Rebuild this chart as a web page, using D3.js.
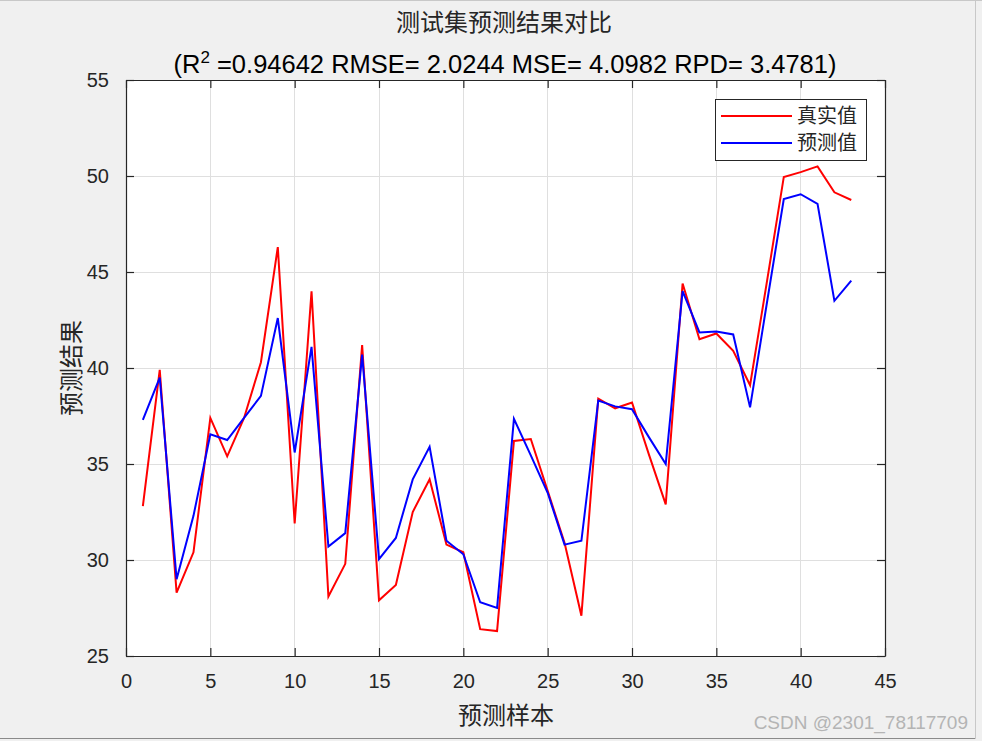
<!DOCTYPE html>
<html>
<head>
<meta charset="utf-8">
<script src="https://cdn.jsdelivr.net/npm/d3@7"></script>
<style>
  html, body { margin: 0; padding: 0; background: #f0f0f0; }
  svg { display: block; }
</style>
</head>
<body>
<div id="chart"></div>
<script>
// ---------- data ----------
const samples = d3.range(1, 44);
const trueValues = [32.8, 39.9, 28.3, 30.4, 37.4, 35.4, 37.4, 40.3, 46.3, 31.9,
  44.0, 28.1, 29.8, 41.2, 27.9, 28.7, 32.5, 34.2, 30.8, 30.4,
  26.4, 26.3, 36.2, 36.3, 33.6, 30.9, 27.1, 38.4, 37.9, 38.2,
  35.5, 32.9, 44.4, 41.5, 41.8, 40.9, 39.1, 44.5, 49.95, 50.2,
  50.5, 49.15, 48.75];
const predValues = [37.3, 39.5, 29.0, 32.3, 36.55, 36.25, 37.4, 38.55, 42.6, 35.6,
  41.1, 30.7, 31.4, 40.7, 30.05, 31.15, 34.2, 35.9, 31.0, 30.3,
  27.8, 27.5, 37.35, 35.45, 33.5, 30.8, 31.0, 38.3, 38.0, 37.85,
  36.4, 35.0, 44.0, 41.85, 41.9, 41.75, 37.95, 43.4, 48.8, 49.05,
  48.55, 43.5, 44.55];
const xTicks = [0, 5, 10, 15, 20, 25, 30, 35, 40, 45];
const yTicks = [25, 30, 35, 40, 45, 50, 55];
const seriesNames = ["真实值", "预测值"];
const seriesColors = ["#ff0000", "#0000ff"];
const titleLine1 = "测试集预测结果对比";
const metrics = { r2: "0.94642", rmse: "2.0244", mse: "4.0982", rpd: "3.4781" };
const xLabel = "预测样本";
const yLabel = "预测结果";
const watermark = "CSDN @2301_78117709";

// ---------- layout ----------
const W = 982, H = 741;
const L = 126, R = 885, T = 80, B = 656;
const cjk = "'Noto Sans CJK SC', sans-serif";
const latin = "'Liberation Sans', Arial, sans-serif";
const ink = "#262626";

const svg = d3.select("#chart").append("svg").attr("width", W).attr("height", H);
svg.append("rect").attr("width", W).attr("height", H).attr("fill", "#f0f0f0");

const x = d3.scaleLinear().domain([0, 45]).range([L, R]);
const y = d3.scaleLinear().domain([25, 55]).range([B, T]);

// plot background
svg.append("rect").attr("x", L).attr("y", T).attr("width", R - L).attr("height", B - T).attr("fill", "#fff");

// grid
const grid = svg.append("g");
grid.selectAll("line.gx").data(xTicks.slice(1, -1)).enter().append("line")
  .attr("x1", d => x(d)).attr("x2", d => x(d)).attr("y1", T).attr("y2", B)
  .attr("stroke", "#dfdfdf").attr("stroke-width", 1).attr("shape-rendering", "crispEdges");
grid.selectAll("line.gy").data(yTicks.slice(1, -1)).enter().append("line")
  .attr("y1", d => y(d)).attr("y2", d => y(d)).attr("x1", L).attr("x2", R)
  .attr("stroke", "#dfdfdf").attr("stroke-width", 1).attr("shape-rendering", "crispEdges");

// lines
const line = d3.line().x((d, i) => x(samples[i])).y(d => y(d));
[trueValues, predValues].forEach((vals, k) => {
  svg.append("path").datum(vals).attr("d", line)
    .attr("fill", "none").attr("stroke", seriesColors[k]).attr("stroke-width", 2)
    .attr("stroke-linejoin", "miter");
});

// axes
const tickLen = 8;
const xAxisB = d3.axisBottom(x).tickValues(xTicks).tickSizeInner(-tickLen).tickSizeOuter(0).tickPadding(18);
const xAxisT = d3.axisTop(x).tickValues(xTicks).tickSizeInner(-tickLen).tickSizeOuter(0).tickFormat("");
const yAxisL = d3.axisLeft(y).tickValues(yTicks).tickSizeInner(-tickLen).tickSizeOuter(0).tickPadding(17);
const yAxisR = d3.axisRight(y).tickValues(yTicks).tickSizeInner(-tickLen).tickSizeOuter(0).tickFormat("");

function styleAxis(g) {
  g.select(".domain").attr("stroke", ink).attr("stroke-width", 1.2);
  g.selectAll(".tick line").attr("stroke", ink).attr("stroke-width", 1.2);
  g.selectAll(".tick text").attr("fill", ink).attr("font-family", latin).attr("font-size", 20);
}
svg.append("g").attr("transform", `translate(0,${B})`).call(xAxisB).call(styleAxis);
svg.append("g").attr("transform", `translate(0,${T})`).call(xAxisT).call(styleAxis);
svg.append("g").attr("transform", `translate(${L},0)`).call(yAxisL).call(styleAxis);
svg.append("g").attr("transform", `translate(${R},0)`).call(yAxisR).call(styleAxis);

// titles
svg.append("text").attr("x", 504).attr("y", 31).attr("text-anchor", "middle")
  .attr("font-family", cjk).attr("font-size", 24).attr("fill", ink).text(titleLine1);
const t2 = svg.append("text").attr("x", 505).attr("y", 73).attr("text-anchor", "middle")
  .attr("font-family", latin).attr("font-size", 25.5).attr("fill", "#000");
t2.append("tspan").text("(R");
t2.append("tspan").attr("dy", -10).attr("font-size", 17).text("2");
t2.append("tspan").attr("dy", 10).text(` =${metrics.r2} RMSE= ${metrics.rmse} MSE= ${metrics.mse} RPD= ${metrics.rpd})`);

// axis labels
svg.append("text").attr("x", 506).attr("y", 724).attr("text-anchor", "middle")
  .attr("font-family", cjk).attr("font-size", 24).attr("fill", ink).text(xLabel);
svg.append("text").attr("transform", `translate(80,${(T + B) / 2}) rotate(-90)`).attr("text-anchor", "middle")
  .attr("font-family", cjk).attr("font-size", 24).attr("fill", ink).text(yLabel);

// legend
const lg = svg.append("g");
lg.append("rect").attr("x", 715.5).attr("y", 99.5).attr("width", 151).attr("height", 61)
  .attr("fill", "#fff").attr("stroke", ink).attr("stroke-width", 1);
seriesNames.forEach((name, k) => {
  const yy = 116 + k * 27;
  lg.append("line").attr("x1", 721).attr("x2", 792).attr("y1", yy).attr("y2", yy)
    .attr("stroke", seriesColors[k]).attr("stroke-width", 2);
  lg.append("text").attr("x", 797).attr("y", yy + 7).attr("font-family", cjk)
    .attr("font-size", 20).attr("fill", ink).text(name);
});

// watermark
svg.append("text").attr("x", 968).attr("y", 729).attr("text-anchor", "end")
  .attr("font-family", latin).attr("font-size", 19).attr("fill", "#b4b4b4").text(watermark);

// figure frame
svg.append("line").attr("x1", 0).attr("x2", W).attr("y1", 0.5).attr("y2", 0.5).attr("stroke", "#c8c8c8");
svg.append("line").attr("x1", 0).attr("x2", 976).attr("y1", 738.5).attr("y2", 738.5).attr("stroke", "#8a8a8a");
svg.append("line").attr("x1", 975.5).attr("x2", 975.5).attr("y1", 0).attr("y2", 739).attr("stroke", "#c8c8c8");
</script>
</body>
</html>
